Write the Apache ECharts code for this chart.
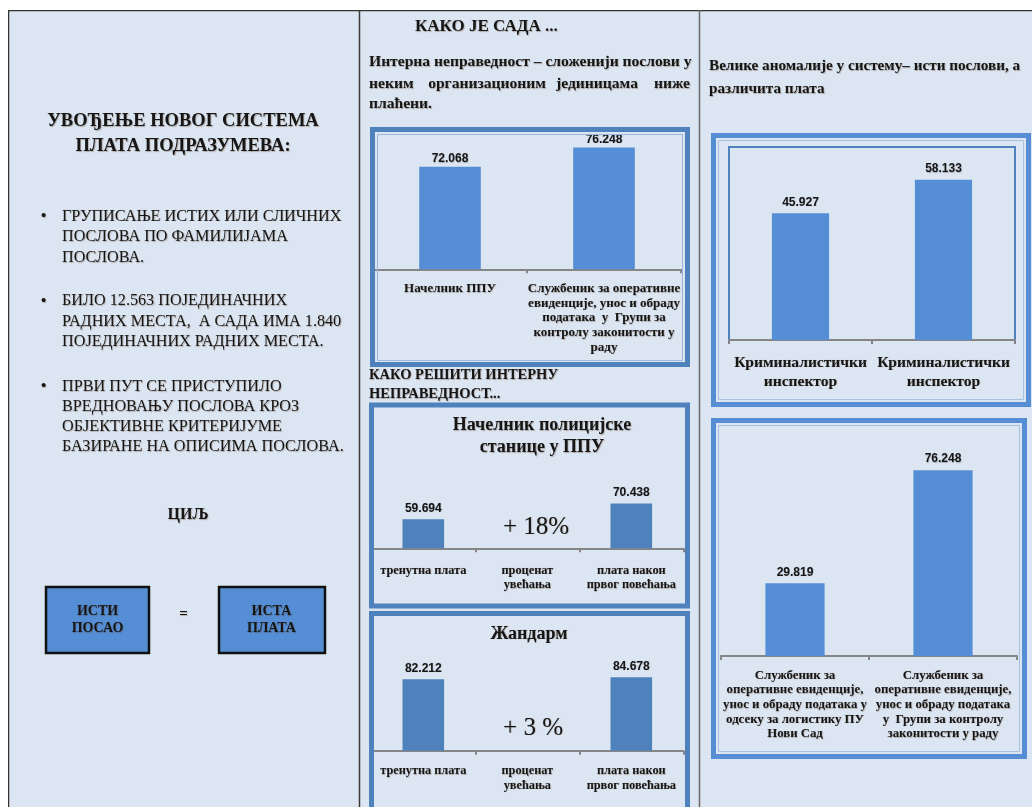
<!DOCTYPE html>
<html><head><meta charset="utf-8">
<script src="https://cdn.jsdelivr.net/npm/echarts@6/dist/echarts.min.js"></script>
<style>html,body{margin:0;padding:0;background:#fff}#c{width:1032px;height:807px}</style>
</head><body><div id="c"></div><script>
// ---- data ----
const nowCategories = ['Начелник ППУ', 'Службеник за оперативне\nевиденције, унос и обраду\nподатака  у  Групи за\nконтролу законитости у\nраду'];
const nowValues = [72.068, 76.248];
const raiseCategories = ['тренутна плата', 'проценат\nувећања', 'плата након\nпрвог повећања'];
const chiefValues = [59.694, null, 70.438];
const chiefRaiseText = '+ 18%';
const gendarmeValues = [82.212, null, 84.678];
const gendarmeRaiseText = '+ 3 %';
const inspectorCategories = ['Криминалистички\nинспектор', 'Криминалистички\nинспектор'];
const inspectorValues = [45.927, 58.133];
const clerkCategories = ['Службеник за\nоперативне евиденције,\nунос и обраду података у\nодсеку за логистику ПУ\nНови Сад', 'Службеник за\nоперативне евиденције,\nунос и обраду података\nу  Групи за контролу\nзаконитости у раду'];
const clerkValues = [29.819, 76.248];

// ---- styles ----
const SERIF = '"Liberation Serif", "DejaVu Serif", serif';
const SANS = '"Liberation Sans", Arial, sans-serif';
const INK = '#161616';
const SHADOW = 'rgba(90,50,20,0.35)';
const BAR_A = '#558ed5';
const BAR_B = '#4f81bd';
const BORDER_M = '#4f81bd';
const BORDER_R = '#558ed5';

function txt(text, x, y, size, opts) {
  opts = opts || {};
  return {
    type: 'text', z: 50,
    style: {
      text: text, x: x, y: y,
      font: (opts.weight || 'bold') + ' ' + size + 'px ' + (opts.family || SERIF),
      fill: opts.color || INK,
      textAlign: opts.align || 'left', align: opts.align || 'left',
      textVerticalAlign: 'middle', verticalAlign: 'middle',
      lineHeight: opts.lh || size * 1.2,
      textShadowColor: SHADOW, textShadowBlur: 1, textShadowOffsetX: 0.8, textShadowOffsetY: 0.8,
      shadowColor: SHADOW, shadowBlur: 1, shadowOffsetX: 0.8, shadowOffsetY: 0.8
    }
  };
}
function rect(x, y, w, h, stroke, lw, fill, z) {
  return { type: 'rect', z: z == null ? 5 : z, shape: { x: x, y: y, width: w, height: h },
    style: { fill: fill || 'none', stroke: stroke || 'none', lineWidth: lw || 0 } };
}
function line(x1, y1, x2, y2, color, w) {
  return { type: 'line', z: 40, shape: { x1: x1, y1: y1, x2: x2, y2: y2 }, style: { stroke: color, lineWidth: w } };
}

function xAx(gi, data, margin, fs, lh) {
  return {
    type: 'category', gridIndex: gi, data: data,
    axisLine: { lineStyle: { color: '#868686', width: 2 } },
    axisTick: { show: true, length: 4, interval: 0, lineStyle: { color: '#868686', width: 2 } },
    axisLabel: { interval: 0, margin: margin, fontFamily: SERIF, fontWeight: 'bold', fontSize: fs, lineHeight: lh, color: INK,
      textShadowColor: SHADOW, textShadowBlur: 1, textShadowOffsetX: 0.6, textShadowOffsetY: 0.6 }
  };
}
function yAx(gi, min, max) { return { type: 'value', gridIndex: gi, min: min, max: max, show: false }; }
function bars(gi, data, color, dist) {
  return {
    type: 'bar', xAxisIndex: gi, yAxisIndex: gi, data: data, barWidth: '40%',
    itemStyle: { color: color },
    label: { show: true, position: 'top', distance: dist == null ? 5 : dist, fontFamily: SANS, fontWeight: 'bold', fontSize: 12, color: INK,
      textShadowColor: 'rgba(0,0,0,0.25)', textShadowBlur: 1, textShadowOffsetX: 0.5, textShadowOffsetY: 0.5 }
  };
}

const graphics = [
  // white page margins
  rect(0, 0, 1032, 10, null, 0, '#ffffff', 60),
  rect(0, 0, 8, 807, null, 0, '#ffffff', 60),
  line(8, 10.5, 1032, 10.5, '#333333', 1.5),
  line(8.5, 10, 8.5, 807, '#333333', 1.5),
  line(359.5, 10, 359.5, 807, '#3a3a3a', 1.5),
  line(699.5, 10, 699.5, 807, '#6a6a6a', 1.5),

  // left panel
  txt('УВОЂЕЊЕ НОВОГ СИСТЕМА\nПЛАТА ПОДРАЗУМЕВА:', 183, 134, 18.5, { align: 'center', lh: 25 }),
  txt('•', 41, 216, 15, { weight: 'bold' }),
  txt('ГРУПИСАЊЕ ИСТИХ ИЛИ СЛИЧНИХ\nПОСЛОВА ПО ФАМИЛИЈАМА\nПОСЛОВА.', 62, 237, 16.2, { weight: 'normal', lh: 20.7 }),
  txt('•', 41, 301, 15, { weight: 'bold' }),
  txt('БИЛО 12.563 ПОЈЕДИНАЧНИХ\nРАДНИХ МЕСТА,  А САДА ИМА 1.840\nПОЈЕДИНАЧНИХ РАДНИХ МЕСТА.', 62, 321.5, 16.2, { weight: 'normal', lh: 20.3 }),
  txt('•', 41, 386, 15, { weight: 'bold' }),
  txt('ПРВИ ПУТ СЕ ПРИСТУПИЛО\nВРЕДНОВАЊУ ПОСЛОВА КРОЗ\nОБЈЕКТИВНЕ КРИТЕРИЈУМЕ\nБАЗИРАНЕ НА ОПИСИМА ПОСЛОВА.', 62, 416.7, 16.2, { weight: 'normal', lh: 20 }),
  txt('ЦИЉ', 188, 515, 16, { align: 'center' }),
  rect(46, 587, 103, 66, '#111111', 2.5, BAR_A, 20),
  rect(219, 587, 106, 66, '#111111', 2.5, BAR_A, 20),
  txt('ИСТИ\nПОСАО', 97.5, 620, 14, { align: 'center', lh: 17 }),
  txt('ИСТА\nПЛАТА', 271.5, 620, 14, { align: 'center', lh: 17 }),
  txt('=', 183.5, 614, 15, { align: 'center' }),

  // middle panel
  txt('КАКО ЈЕ САДА ...', 415, 27, 17),
  txt('Интерна неправедност – сложенији послови у', 369, 62, 15.6),
  txt('неким', 369, 84, 15.6),
  txt('организационим', 487, 84, 15.6, { align: 'center' }),
  txt('јединицама', 597, 84, 15.6, { align: 'center' }),
  txt('ниже', 690, 84, 15.6, { align: 'right' }),
  txt('плаћени.', 369, 104, 15.6),
  rect(372.5, 129.5, 315, 235, BORDER_M, 5),
  rect(377.5, 134.5, 305, 226, '#9fb6da', 1),

  txt('КАКО РЕШИТИ ИНТЕРНУ\nНЕПРАВЕДНОСТ...', 369, 384.5, 14.5, { lh: 19 }),
  rect(371.5, 405, 316, 201, BORDER_M, 5),
  txt('Начелник полицијске\nстанице у ППУ', 542, 436.5, 18, { align: 'center', lh: 21.5 }),
  txt(chiefRaiseText, 536, 527, 25, { align: 'center', weight: 'normal' }),

  rect(371.5, 613.5, 316, 230, BORDER_M, 5),
  txt('Жандарм', 529, 634, 18, { align: 'center' }),
  txt(gendarmeRaiseText, 533, 728, 25, { align: 'center', weight: 'normal' }),

  // right panel
  txt('Велике аномалије у систему– исти послови, а\nразличита плата', 709, 78, 15.2, { lh: 23 }),
  rect(713.5, 135.5, 315, 269, BORDER_R, 5),
  rect(718.5, 140.5, 305, 259, '#a9c0e0', 1),
  rect(713.5, 420.5, 311, 336, BORDER_R, 5),
  rect(718.5, 425.5, 301, 326, '#a9c0e0', 1)
];

const option = {
  backgroundColor: '#dce6f2',
  animation: false,
  grid: [
    { left: 373, width: 308, top: 130, height: 139.3 },
    { left: 371.3, width: 312, top: 489.4, height: 58.9 },
    { left: 371.3, width: 312, top: 663.9, height: 86.8 },
    { left: 729, width: 286, top: 147, height: 193, show: true, borderColor: '#4f81bd', borderWidth: 2, backgroundColor: 'transparent' },
    { left: 721, width: 296, top: 461, height: 195 }
  ],
  xAxis: [
    xAx(0, nowCategories, 12, 13, 14.7),
    xAx(1, raiseCategories, 15, 12.3, 14.5),
    xAx(2, raiseCategories, 13, 12.3, 14.5),
    xAx(3, inspectorCategories, 13, 15.5, 19),
    xAx(4, clerkCategories, 12, 12.8, 14.7)
  ],
  yAxis: [yAx(0, 50, 80), yAx(1, 40, 80), yAx(2, 0, 100), yAx(3, 0, 70), yAx(4, 0, 80)],
  series: [
    bars(0, nowValues, BAR_A, 2),
    bars(1, chiefValues, BAR_B),
    bars(2, gendarmeValues, BAR_B),
    bars(3, inspectorValues, BAR_A),
    bars(4, clerkValues, BAR_A)
  ],
  graphic: { elements: graphics }
};
const chart = echarts.init(document.getElementById('c'), null, { renderer: 'canvas' });
chart.setOption(option);
</script></body></html>
